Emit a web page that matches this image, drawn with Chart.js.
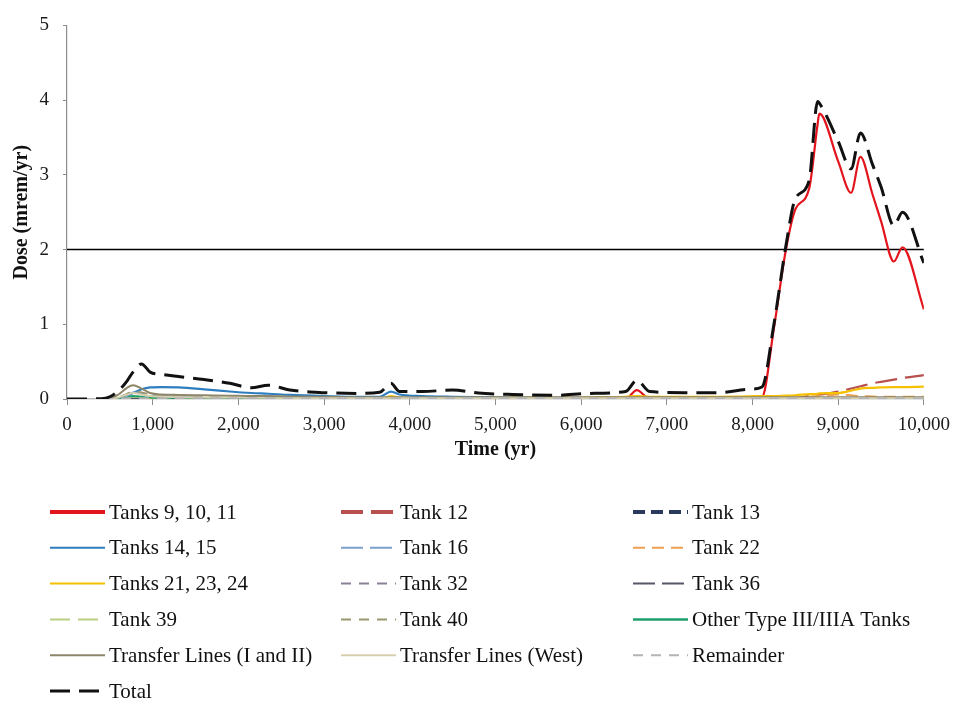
<!DOCTYPE html>
<html>
<head>
<meta charset="utf-8">
<script src="https://cdn.jsdelivr.net/npm/chart.js@4.4.1/dist/chart.umd.min.js"></script>
<style>
  html, body { margin: 0; padding: 0; background: #fff; }
  #wrap { width: 959px; height: 702px; }
</style>
</head>
<body>
<div id="wrap"><canvas id="c" width="959" height="702"></canvas></div>
<script>
// ---- DATA ----
const years = [0, 400, 500, 600, 700, 770, 870, 970, 1100, 1300, 1600, 1900, 2150, 2350, 2600, 3000, 3400, 3650, 3780, 3880, 4150, 4500, 4800, 5200, 5700, 6100, 6520, 6650, 6800, 7200, 7600, 7960, 8110, 8250, 8390, 8500, 8660, 8760, 8780, 9000, 9150, 9260, 9400, 9500, 9650, 9750, 10000];

const seriesNames = ["Tanks 9, 10, 11", "Tank 12", "Tank 13", "Tanks 14, 15", "Tank 16", "Tank 22", "Tanks 21, 23, 24", "Tank 32", "Tank 36", "Tank 39", "Tank 40", "Other Type III/IIIA Tanks", "Transfer Lines (I and II)", "Transfer Lines (West)", "Remainder", "Total"];

const tanks9_10_11 = [0,0,0,0,0,0,0,0,0,0,0,0,0,0,0,0,0,0,0,0,0,0,0,0,0,0,0,0.12,0,0,0,0,0.02,0.95,2.0,2.54,2.81,3.68,3.82,3.18,2.76,3.24,2.74,2.38,1.84,2.03,1.2];
const tank12 = [0,0,0,0,0,0,0,0,0,0,0,0,0,0,0,0,0,0,0,0,0,0,0,0,0,0,0,0,0,0,0,0,0,0,0,0.01,0.04,0.06,0.06,0.1,0.14,0.17,0.21,0.23,0.26,0.28,0.32];
const tank13 = [0,0,0,0,0.005,0.01,0.01,0.01,0.01,0.01,0.01,0.01,0.01,0.01,0.01,0.01,0.01,0.01,0.01,0.01,0.01,0.01,0.01,0.01,0.01,0.01,0.01,0.01,0.01,0.01,0.01,0.01,0.01,0.01,0.01,0.01,0.01,0.01,0.01,0.01,0.01,0.01,0.01,0.01,0.01,0.01,0.01];
const tanks14_15 = [0,0,0,0.01,0.04,0.08,0.13,0.155,0.16,0.155,0.13,0.1,0.08,0.07,0.055,0.04,0.03,0.03,0.1,0.06,0.04,0.03,0.025,0.02,0.015,0.015,0.015,0.02,0.015,0.01,0.01,0.01,0.01,0.01,0.01,0.01,0.01,0.01,0.01,0.01,0.01,0.01,0.01,0.01,0.01,0.01,0.01];
const tank16 = [0,0,0,0,0.04,0.09,0.08,0.05,0.04,0.035,0.03,0.025,0.02,0.02,0.015,0.01,0.01,0.01,0.01,0.01,0.01,0.01,0.01,0.01,0.01,0.01,0.01,0.01,0.01,0.01,0.01,0.01,0.01,0.01,0.01,0.01,0.01,0.01,0.01,0.01,0.01,0.01,0.01,0.01,0.01,0.01,0.01];
const tank22 = [0,0,0,0,0,0,0,0,0,0,0,0,0,0,0,0,0,0,0,0,0,0,0,0,0,0,0,0,0,0,0,0,0.005,0.01,0.015,0.02,0.03,0.04,0.04,0.06,0.05,0.04,0.035,0.03,0.03,0.03,0.03];
const tanks21_23_24 = [0,0,0,0,0,0,0,0,0,0,0,0,0,0,0,0,0,0,0.04,0.02,0.01,0.01,0.01,0.015,0.015,0.02,0.03,0.04,0.03,0.03,0.03,0.035,0.04,0.04,0.045,0.05,0.065,0.07,0.075,0.08,0.11,0.14,0.15,0.155,0.16,0.16,0.165];
const tank32 = [0,0,0,0,0.005,0.01,0.01,0.01,0.01,0.01,0.01,0.01,0.01,0.01,0.01,0.01,0.01,0.01,0.01,0.01,0.01,0.01,0.01,0.01,0.01,0.01,0.01,0.01,0.01,0.01,0.01,0.01,0.01,0.01,0.01,0.01,0.01,0.01,0.01,0.01,0.01,0.01,0.01,0.01,0.01,0.01,0.01];
const tank36 = [0,0,0,0,0.005,0.01,0.01,0.01,0.01,0.01,0.01,0.01,0.01,0.01,0.01,0.01,0.01,0.01,0.01,0.01,0.01,0.01,0.01,0.01,0.01,0.01,0.01,0.01,0.01,0.01,0.01,0.01,0.01,0.01,0.01,0.01,0.01,0.01,0.01,0.01,0.01,0.01,0.01,0.01,0.01,0.01,0.01];
const tank39 = [0,0,0,0,0.02,0.03,0.03,0.02,0.015,0.01,0.01,0.01,0.01,0.01,0.01,0.01,0.01,0.01,0.01,0.01,0.01,0.01,0.01,0.01,0.01,0.01,0.01,0.01,0.01,0.01,0.01,0.01,0.01,0.01,0.01,0.01,0.01,0.01,0.01,0.01,0.01,0.01,0.01,0.01,0.01,0.01,0.01];
const tank40 = [0,0,0,0.02,0.07,0.1,0.09,0.06,0.05,0.045,0.04,0.035,0.03,0.03,0.025,0.02,0.015,0.015,0.015,0.015,0.015,0.015,0.015,0.015,0.015,0.015,0.015,0.015,0.015,0.015,0.015,0.015,0.015,0.015,0.015,0.015,0.015,0.015,0.015,0.015,0.015,0.015,0.015,0.015,0.015,0.015,0.015];
const otherTypeIII = [0,0,0,0,0.02,0.04,0.03,0.02,0.015,0.015,0.015,0.015,0.01,0.01,0.01,0.01,0.01,0.01,0.01,0.01,0.01,0.01,0.01,0.01,0.01,0.01,0.01,0.01,0.01,0.01,0.01,0.01,0.01,0.01,0.01,0.01,0.01,0.01,0.01,0.01,0.01,0.01,0.01,0.01,0.01,0.01,0.01];
const transferLinesI_II = [0,0,0.005,0.06,0.15,0.185,0.14,0.08,0.06,0.055,0.05,0.045,0.04,0.04,0.035,0.03,0.025,0.025,0.025,0.025,0.025,0.025,0.025,0.025,0.025,0.025,0.025,0.025,0.025,0.025,0.025,0.025,0.025,0.025,0.025,0.025,0.025,0.025,0.025,0.025,0.025,0.025,0.025,0.025,0.025,0.025,0.025];
const transferLinesWest = [0,0,0,0.02,0.06,0.08,0.06,0.04,0.03,0.025,0.02,0.02,0.015,0.015,0.01,0.01,0.01,0.01,0.01,0.01,0.01,0.01,0.01,0.01,0.01,0.01,0.01,0.01,0.01,0.01,0.01,0.01,0.01,0.01,0.01,0.01,0.01,0.01,0.01,0.01,0.01,0.01,0.01,0.01,0.01,0.01,0.01];
const remainder = [0,0,0,0.005,0.01,0.01,0.01,0.01,0.01,0.01,0.01,0.01,0.01,0.01,0.01,0.01,0.01,0.01,0.01,0.01,0.01,0.01,0.01,0.01,0.01,0.01,0.01,0.01,0.01,0.01,0.01,0.01,0.01,0.01,0.01,0.01,0.01,0.01,0.01,0.01,0.01,0.01,0.01,0.01,0.01,0.01,0.01];
const total = [0,0.005,0.03,0.11,0.24,0.36,0.47,0.36,0.33,0.3,0.26,0.21,0.15,0.185,0.12,0.085,0.075,0.09,0.21,0.1,0.1,0.12,0.08,0.06,0.05,0.075,0.1,0.25,0.1,0.085,0.085,0.13,0.16,1.0,2.05,2.68,2.92,3.98,3.96,3.45,3.08,3.56,3.14,2.84,2.32,2.5,1.82];

const seriesValues = [tanks9_10_11, tank12, tank13, tanks14_15, tank16, tank22, tanks21_23_24, tank32, tank36, tank39, tank40, otherTypeIII, transferLinesI_II, transferLinesWest, remainder, total];

const limitDose = 2;
const xTickStep = 1000;
const yTickStep = 1;

// ---- STYLES ----
const seriesStyles = [
  { color: '#e3141c', dash: [], width: 2.2, legendWidth: 4 },
  { color: '#b8504e', dash: [22, 8], width: 2.2, legendWidth: 4 },
  { color: '#2a3a5c', dash: [12, 6], width: 2.2, legendWidth: 4 },
  { color: '#2e7dbf', dash: [], width: 2.2, legendWidth: 2 },
  { color: '#7b9fcc', dash: [22, 7], width: 1.8, legendWidth: 2 },
  { color: '#eea050', dash: [12, 7], width: 1.8, legendWidth: 2 },
  { color: '#f5c000', dash: [], width: 2.2, legendWidth: 2 },
  { color: '#8a8098', dash: [10, 8], width: 1.8, legendWidth: 2 },
  { color: '#55566a', dash: [22, 7], width: 1.8, legendWidth: 2 },
  { color: '#b9cf84', dash: [20, 8], width: 1.8, legendWidth: 2 },
  { color: '#9a9870', dash: [10, 8], width: 1.8, legendWidth: 2 },
  { color: '#1f9e6e', dash: [], width: 1.8, legendWidth: 2.5 },
  { color: '#8d866a', dash: [], width: 2, legendWidth: 2 },
  { color: '#d6cfae', dash: [], width: 1.8, legendWidth: 2 },
  { color: '#b4b4b4', dash: [10, 8], width: 1.8, legendWidth: 2 },
  { color: '#111111', dash: [20, 9], width: 3, legendWidth: 3 }
];

const FONT = "'Liberation Serif', 'Times New Roman', serif";

const datasets = seriesNames.map((name, i) => ({
  label: name,
  data: years.map((t, k) => ({ x: t, y: seriesValues[i][k] })),
  borderColor: seriesStyles[i].color,
  borderDash: seriesStyles[i].dash,
  borderWidth: seriesStyles[i].width,
  pointRadius: 0,
  fill: false,
  cubicInterpolationMode: 'monotone',
  order: seriesNames.length - i
}));

datasets.push({
  label: '__limit',
  data: [{ x: years[0], y: limitDose }, { x: years[years.length - 1], y: limitDose }],
  borderColor: '#000',
  borderWidth: 1.6,
  pointRadius: 0,
  fill: false,
  order: 100
});

const legendPlugin = {
  id: 'gridLegend',
  afterDraw(chart) {
    const ctx = chart.ctx;
    const colX = [50, 341, 633];
    const rowY0 = 512, rowH = 35.8, sampleLen = 55, textGap = 4;
    ctx.save();
    ctx.font = "21px " + FONT;
    ctx.textBaseline = 'middle';
    ctx.fillStyle = '#111';
    seriesNames.forEach((name, i) => {
      const col = i % 3, row = Math.floor(i / 3);
      const x = colX[col], y = rowY0 + row * rowH;
      const st = seriesStyles[i];
      ctx.beginPath();
      ctx.strokeStyle = st.color;
      ctx.lineWidth = st.legendWidth;
      ctx.setLineDash(st.dash);
      ctx.moveTo(x, y);
      ctx.lineTo(x + sampleLen, y);
      ctx.stroke();
      ctx.setLineDash([]);
      ctx.fillText(name, x + sampleLen + textGap, y + 1);
    });
    ctx.restore();
  }
};

new Chart(document.getElementById('c'), {
  type: 'line',
  data: { datasets },
  plugins: [legendPlugin],
  options: {
    responsive: false,
    devicePixelRatio: 1,
    animation: false,
    events: [],
    layout: { padding: { top: 21, right: 34, bottom: 236, left: 0 } },
    plugins: { legend: { display: false }, tooltip: { enabled: false } },
    scales: {
      x: {
        type: 'linear',
        min: 0, max: 10000,
        afterFit(s) { s.height = 67; },
        ticks: {
          stepSize: xTickStep,
          padding: 9,
          color: '#1a1a1a',
          font: { family: FONT, size: 19 },
          maxRotation: 0,
          callback: v => v.toLocaleString('en-US')
        },
        grid: { drawOnChartArea: false, drawTicks: true, tickLength: 6, color: '#8c8c8c' },
        border: { display: true, color: '#8c8c8c', width: 1.2 },
        title: { display: true, text: 'Time (yr)', color: '#111', font: { family: FONT, size: 20, weight: 'bold' }, padding: { top: 0, bottom: 4 } }
      },
      y: {
        min: 0, max: 5,
        afterFit(s) { s.width = 67; },
        ticks: {
          stepSize: yTickStep,
          padding: 14,
          color: '#1a1a1a',
          font: { family: FONT, size: 19 }
        },
        grid: { drawOnChartArea: false, drawTicks: true, tickLength: 4, color: '#8c8c8c' },
        border: { display: true, color: '#8c8c8c', width: 1.2 },
        title: { display: true, text: 'Dose (mrem/yr)', color: '#111', font: { family: FONT, size: 20, weight: 'bold' }, padding: { top: 10, bottom: 0 } }
      }
    }
  }
});
</script>
</body>
</html>
